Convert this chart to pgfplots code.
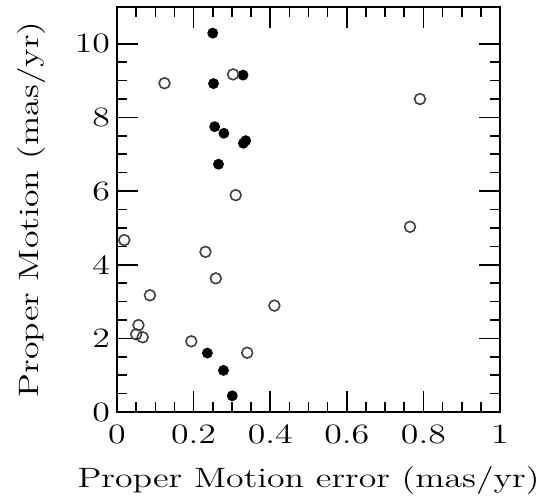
\documentclass[border=0pt]{standalone}
\usepackage{graphicx}
\usepackage{pgfplots}
\pgfplotsset{compat=1.18}
\newcommand\sx[1]{\scalebox{1.28}[1]{#1}}
\begin{document}
\begin{tikzpicture}
\begin{axis}[
  name=ax,
  scale only axis,
  width=191.5pt, height=202.5pt,
  xmin=0, xmax=1, ymin=0, ymax=11,
  xtick={0,0.2,0.4,0.6,0.8,1},
  ytick={0,2,4,6,8,10},
  minor x tick num=3, minor y tick num=3,
  tick align=inside,
  major tick length=10.5pt, minor tick length=5.2pt,
  axis line style={line width=1pt, black},
  every tick/.style={line width=0.8pt, black},
  tick label style={font=\fontsize{14}{16}\selectfont},
  /pgf/number format/assume math mode=true,
  xticklabel={\sx{\pgfmathprintnumber{\tick}}},
  yticklabel={\sx{\pgfmathprintnumber{\tick}}},
  xticklabel style={yshift=-3pt},
  label style={font=\fontsize{14}{16}\selectfont},
  xlabel={\sx{Proper Motion error (mas/yr)}},
  ylabel={\sx{Proper Motion (mas/yr)}},
  xlabel style={at={(axis description cs:0.5,-0.187)}, anchor=base},
  ylabel style={at={(axis description cs:-0.206,0.5)}, anchor=base, rotate=0},
  clip=false,
]
\addplot[only marks, mark=*, mark size=2.5pt, black, mark options={fill=black}] coordinates {
(0.250,10.29) (0.252,8.92) (0.329,9.15) (0.255,7.75) (0.279,7.57)
(0.330,7.30) (0.336,7.37) (0.265,6.73) (0.236,1.60) (0.278,1.13) (0.301,0.44)
};
\addplot[only marks, mark=o, mark size=2.7pt, line width=0.8pt, draw=black!75] coordinates {
(0.124,8.93) (0.303,9.17) (0.310,5.89) (0.019,4.67) (0.231,4.35) (0.258,3.63)
(0.086,3.17) (0.411,2.89) (0.056,2.36) (0.050,2.11) (0.067,2.03) (0.194,1.92)
(0.340,1.61) (0.791,8.50) (0.765,5.03)
};
\end{axis}
\pgfresetboundingbox
\path[use as bounding box] ([xshift=-58.5pt,yshift=-42.5pt]ax.south west) rectangle ([xshift=27.5pt,yshift=3.5pt]ax.north east);
\end{tikzpicture}
\end{document}
